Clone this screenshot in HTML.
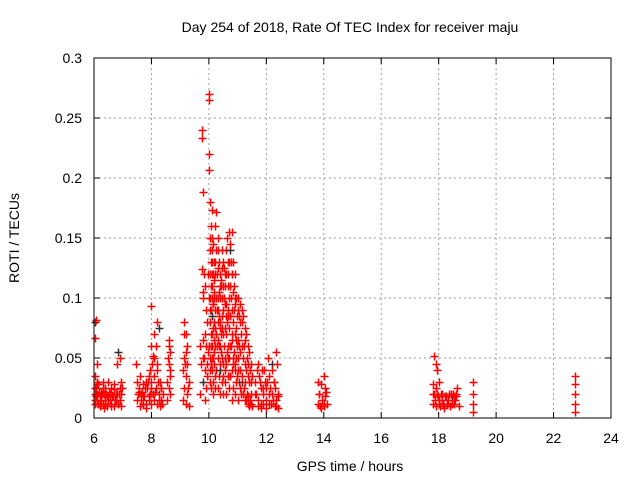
<!DOCTYPE html>
<html><head><meta charset="utf-8"><style>
body{margin:0;background:#fff;}
svg text{font-family:"Liberation Sans",sans-serif;font-size:14px;fill:#000;}
</style></head><body>
<svg id="chart" width="640" height="480">
<rect width="640" height="480" fill="#fff"/>
<g id="grid"></g>
<g id="pts"></g>
<rect x="94" y="58" width="517" height="360" fill="none" stroke="#000" stroke-width="1"/>
<g id="ticks"></g>
<text x="350" y="32" text-anchor="middle">Day 254 of 2018, Rate Of TEC Index for receiver maju</text>
<text x="350" y="471" text-anchor="middle">GPS time / hours</text>
<text x="19" y="238" text-anchor="middle" transform="rotate(-90 19 238)">ROTI / TECUs</text>
</svg>
<script>
const xTicks=[6,8,10,12,14,16,18,20,22,24];
const yTicks=[0,0.05,0.1,0.15,0.2,0.25,0.3];
const yTickLabels=["0","0.05","0.1","0.15","0.2","0.25","0.3"];
const hours=[
6.05,6.05,6.05,6.05,6.05,6.08,6.08,6.1,6.1,6.1,6.12,6.15,6.15,6.2,6.2,6.25,6.25,6.3,6.3,6.35,6.35,6.4,6.4,6.45,6.45,6.5,6.55,6.55,6.6,6.6,6.65,6.7,6.7,6.75,6.8,6.8,6.85,6.85,6.9,6.9,6.9,6.95,6.95,
7.45,7.5,7.5,7.55,7.6,7.6,7.65,7.7,7.7,7.75,7.8,7.8,7.85,7.9,7.9,7.95,7.95,8.0,8.0,8.0,8.0,8.05,8.05,8.1,8.1,8.1,8.15,8.15,8.2,8.2,8.2,8.25,8.25,8.3,8.3,8.35,8.35,8.4,
8.55,8.55,8.6,8.6,8.6,8.62,8.65,8.65,8.65,
9.1,9.1,9.15,9.15,9.15,9.2,9.2,9.2,9.25,9.25,9.25,9.3,9.3,
9.7,9.7,9.75,9.75,9.75,9.8,9.8,9.8,9.8,9.82,9.85,9.85,9.85,9.9,9.9,9.9,9.95,9.95,
10.0,10.0,10.0,10.0,10.02,10.02,10.05,10.05,10.05,10.05,10.05,10.05,10.05,10.08,10.08,10.08,10.08,10.08,10.08,
10.1,10.1,10.1,10.1,10.1,10.1,10.12,10.12,10.12,10.12,10.15,10.15,10.15,10.15,10.15,10.15,10.18,10.18,10.18,10.18,10.2,10.2,10.2,10.2,10.2,
10.25,10.25,10.25,10.25,10.25,10.3,10.3,10.3,10.3,10.3,10.3,10.35,10.35,10.35,10.35,10.35,10.4,10.4,10.4,10.4,10.4,10.4,10.42,10.42,10.45,10.45,10.45,10.45,10.45,
10.5,10.5,10.5,10.5,10.5,10.5,10.55,10.55,10.55,10.55,10.55,10.6,10.6,10.6,10.6,10.6,10.6,10.65,10.65,10.65,10.65,10.65,10.7,10.7,10.7,10.7,10.7,10.7,
10.75,10.75,10.75,10.75,10.75,10.8,10.8,10.8,10.8,10.8,10.8,10.85,10.85,10.85,10.85,10.85,10.9,10.9,10.9,10.9,10.9,10.95,10.95,10.95,10.95,
11.0,11.0,11.0,11.0,11.05,11.05,11.05,11.1,11.1,11.1,11.15,11.15,11.15,11.2,11.2,11.2,11.25,11.25,11.25,11.3,11.3,11.3,11.35,11.35,11.35,11.4,11.4,11.4,11.45,11.45,11.5,11.5,
11.6,11.65,11.7,11.7,11.75,11.8,11.8,11.85,11.9,11.9,11.95,12.0,12.0,12.05,12.1,12.1,12.15,12.2,12.2,12.25,12.3,12.3,12.35,12.35,12.4,12.4,
13.8,13.8,13.85,13.9,13.95,14.0,14.0,14.05,14.05,14.1,
17.8,17.8,17.85,17.85,17.9,17.9,17.95,17.95,18.0,18.0,18.05,18.1,18.15,18.2,18.25,18.3,18.35,18.4,18.45,18.5,18.55,18.6,18.65,18.7,
19.2,19.2,19.2,19.2,22.75,22.75,22.75,22.75,22.75];
const roti=[
0.08,0.067,0.035,0.02,0.012,0.082,0.025,0.03,0.015,0.045,0.02,0.012,0.028,0.018,0.01,0.022,0.015,0.03,0.012,0.02,0.008,0.025,0.015,0.018,0.01,0.03,0.015,0.02,0.012,0.025,0.018,0.01,0.028,0.015,0.02,0.045,0.012,0.055,0.025,0.05,0.015,0.02,0.03,
0.045,0.015,0.03,0.022,0.01,0.035,0.02,0.028,0.012,0.018,0.03,0.008,0.025,0.015,0.035,0.02,0.04,0.093,0.06,0.03,0.012,0.052,0.02,0.07,0.035,0.015,0.06,0.025,0.08,0.045,0.012,0.075,0.02,0.03,0.01,0.025,0.015,0.02,
0.015,0.03,0.045,0.065,0.025,0.06,0.02,0.04,0.055,
0.015,0.04,0.07,0.025,0.08,0.055,0.012,0.035,0.06,0.02,0.045,0.03,0.01,
0.02,0.06,0.233,0.24,0.124,0.188,0.105,0.05,0.03,0.12,0.07,0.04,0.015,0.09,0.06,0.025,0.08,0.035,
0.265,0.27,0.22,0.207,0.1,0.06,0.15,0.14,0.12,0.1,0.08,0.05,0.03,0.13,0.11,0.09,0.07,0.045,0.025,
0.173,0.15,0.13,0.1,0.07,0.04,0.14,0.11,0.085,0.06,0.145,0.12,0.095,0.075,0.05,0.03,0.13,0.105,0.08,0.055,0.16,0.12,0.09,0.06,0.035,
0.172,0.14,0.1,0.07,0.04,0.15,0.125,0.1,0.08,0.05,0.025,0.13,0.105,0.085,0.06,0.035,0.12,0.1,0.08,0.06,0.04,0.02,0.11,0.07,0.125,0.1,0.075,0.05,0.03,
0.13,0.11,0.09,0.07,0.045,0.02,0.12,0.095,0.075,0.05,0.03,0.14,0.12,0.095,0.07,0.045,0.02,0.13,0.11,0.085,0.06,0.035,0.155,0.13,0.1,0.075,0.05,0.025,
0.14,0.11,0.085,0.06,0.035,0.155,0.12,0.09,0.065,0.04,0.015,0.13,0.105,0.08,0.05,0.025,0.12,0.095,0.07,0.045,0.02,0.1,0.075,0.05,0.03,
0.09,0.065,0.04,0.015,0.085,0.06,0.03,0.08,0.055,0.025,0.09,0.06,0.03,0.085,0.05,0.02,0.075,0.045,0.015,0.07,0.04,0.015,0.06,0.035,0.012,0.055,0.03,0.01,0.045,0.02,0.035,0.01,
0.03,0.02,0.045,0.01,0.035,0.025,0.008,0.04,0.02,0.012,0.03,0.025,0.008,0.05,0.02,0.035,0.012,0.045,0.02,0.03,0.01,0.025,0.015,0.055,0.02,0.008,
0.03,0.012,0.02,0.008,0.015,0.035,0.01,0.025,0.018,0.012,
0.028,0.012,0.02,0.052,0.045,0.01,0.04,0.02,0.015,0.03,0.01,0.02,0.012,0.008,0.018,0.012,0.02,0.01,0.015,0.02,0.012,0.018,0.025,0.01,
0.03,0.02,0.012,0.005,0.035,0.028,0.02,0.012,0.005];
const hours2=[
6.02,6.02,6.07,6.12,6.18,6.22,6.28,6.33,6.38,6.43,6.48,6.52,6.58,6.63,6.68,6.72,6.78,6.83,6.88,6.93,6.97,
7.52,7.57,7.62,7.68,7.72,7.78,7.82,7.88,7.92,7.98,8.02,8.08,8.12,8.18,8.22,8.28,8.32,8.38,8.58,8.63,9.12,9.18,9.22,9.28,
9.72,9.78,9.78,9.83,9.88,9.92,9.97,9.97,10.03,10.03,10.03,10.07,10.07,10.11,10.11,10.13,10.13,10.17,10.17,10.19,10.19,10.22,10.22,10.23,10.27,10.27,10.28,10.32,10.32,10.33,10.37,10.37,10.38,10.43,10.43,10.47,10.47,10.48,
10.52,10.52,10.53,10.57,10.57,10.58,10.62,10.62,10.63,10.67,10.67,10.68,10.72,10.72,10.73,10.77,10.77,10.78,10.82,10.82,10.83,10.87,10.87,10.88,10.92,10.92,10.93,10.97,10.97,10.98,
11.02,11.02,11.07,11.07,11.12,11.12,11.17,11.17,11.22,11.22,11.27,11.27,11.32,11.32,11.37,11.37,11.42,11.42,11.47,11.47,
11.62,11.68,11.72,11.78,11.83,11.88,11.93,11.98,12.03,12.08,12.13,12.18,12.23,12.28,12.33,12.38,12.42,
13.82,13.88,13.92,14.02,14.08,17.82,17.87,17.92,17.97,18.02,18.08,18.12,18.18,18.22,18.28,18.32,18.38,18.42,18.48,18.52,18.58,18.62];
const roti2=[
0.025,0.015,0.018,0.028,0.022,0.012,0.02,0.025,0.012,0.02,0.015,0.022,0.01,0.018,0.024,0.015,0.02,0.012,0.02,0.01,0.025,
0.02,0.025,0.015,0.022,0.018,0.025,0.012,0.03,0.018,0.025,0.045,0.05,0.022,0.04,0.03,0.015,0.025,0.012,0.05,0.035,0.05,0.045,0.07,0.025,
0.045,0.1,0.065,0.05,0.11,0.045,0.12,0.055,0.18,0.09,0.04,0.16,0.06,0.12,0.05,0.095,0.02,0.115,0.065,0.1,0.045,0.13,0.075,0.025,0.12,0.06,0.09,0.14,0.065,0.09,0.11,0.045,0.075,0.115,0.055,0.14,0.085,0.035,
0.125,0.06,0.1,0.11,0.04,0.085,0.15,0.08,0.055,0.12,0.05,0.09,0.145,0.085,0.035,0.13,0.06,0.1,0.12,0.07,0.045,0.11,0.055,0.09,0.1,0.04,0.065,0.085,0.035,0.06,
0.1,0.05,0.095,0.04,0.07,0.02,0.08,0.035,0.06,0.025,0.065,0.03,0.05,0.02,0.045,0.018,0.04,0.015,0.03,0.012,
0.02,0.04,0.015,0.03,0.012,0.025,0.04,0.015,0.03,0.012,0.025,0.04,0.015,0.03,0.01,0.045,0.018,
0.02,0.01,0.028,0.012,0.022,0.02,0.015,0.025,0.018,0.012,0.02,0.015,0.01,0.018,0.012,0.015,0.01,0.02,0.012,0.018,0.015,0.02];
const X0=94,X1=611,Y0=418,Y1=58;
const xs=h=>X0+(h-6)/18*(X1-X0);
const ys=v=>Y0-v/0.3*(Y0-Y1);
const NS="http://www.w3.org/2000/svg";
const grid=document.getElementById('grid'),ticks=document.getElementById('ticks'),pts=document.getElementById('pts');
function mk(tag,attrs,parent){const e=document.createElementNS(NS,tag);for(const k in attrs)e.setAttribute(k,attrs[k]);parent.appendChild(e);return e;}
xTicks.forEach((t,i)=>{const x=xs(t);
 if(i>0&&i<xTicks.length-1){const g=mk('line',{x1:x,x2:x,y1:Y1,y2:Y0,stroke:'#a0a0a0','stroke-dasharray':'2,3'},grid);
 
 }
 const l=mk('line',{x1:x,x2:x,y1:Y0,y2:Y0-6,stroke:'#000'},ticks);
 
 
 const l2=mk('line',{x1:x,x2:x,y1:Y1,y2:Y1+6,stroke:'#000'},ticks);
 
 
 const tx=mk('text',{x:x,y:443,'text-anchor':'middle'},ticks);tx.textContent=t;
 
 
});
yTicks.forEach((t,i)=>{const y=ys(t);
 if(i>0&&i<yTicks.length-1){const g=mk('line',{x1:X0,x2:X1,y1:y,y2:y,stroke:'#a0a0a0','stroke-dasharray':'2,3'},grid);
 
 }
 const l=mk('line',{x1:X0,x2:X0+6,y1:y,y2:y,stroke:'#000'},ticks);
 
 
 const l2=mk('line',{x1:X1,x2:X1-6,y1:y,y2:y,stroke:'#000'},ticks);
 
 
 const tx=mk('text',{x:82,y:y+5,'text-anchor':'end'},ticks);tx.textContent=yTickLabels[i];
 
 
});
function drawPoint(h,v,dark){const x=Math.round(xs(h))+0.5,y=Math.round(ys(v))+0.5;
 const p=mk('path',{d:`M${x-4} ${y}H${x+4}M${x} ${y-4}V${y+4}`,stroke:dark?'#303030':'#ff0000','stroke-width':1.5,fill:'none'},pts);
 
 
}
hours.forEach((h,i)=>drawPoint(h,roti[i],i%37===0));
hours2.forEach((h,i)=>drawPoint(h,roti2[i],false));
</script>
</body></html>
